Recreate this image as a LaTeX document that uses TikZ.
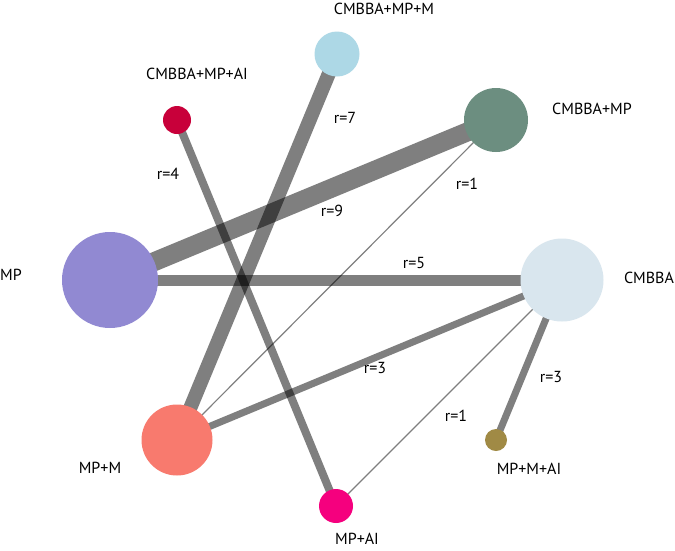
\documentclass[tikz,border=0pt]{standalone}
\usepackage{fontspec}
\setmainfont{PT Sans}
\begin{document}
\begin{tikzpicture}[x=1pt,y=-1pt,
  lbl/.style={font=\fontsize{16}{17}\selectfont, inner sep=0pt},
  rl/.style={font=\fontsize{16}{17}\selectfont, inner sep=0pt},
  edge/.style={draw=black, draw opacity=0.5},
  dot/.style={circle, inner sep=0pt, draw=none}]
\useasboundingbox (0,0) rectangle (675,550);
\fill[white] (0,0) rectangle (675,550);
% node positions
\coordinate (cmm) at (337,54);
\coordinate (cma) at (177,120);
\coordinate (cm) at (496,120);
\coordinate (mp) at (110,280);
\coordinate (cb) at (562,280);
\coordinate (mpm) at (177,440);
\coordinate (mpa) at (336,506);
\coordinate (mma) at (496,440);
% edges
\draw[edge, line width=14pt] (cmm) -- (mpm);
\draw[edge, line width=8pt] (cma) -- (mpa);
\draw[edge, line width=19pt] (cm) -- (mp);
\draw[edge, line width=1.2pt] (cm) -- (mpm);
\draw[edge, line width=11pt] (mp) -- (cb);
\draw[edge, line width=7pt] (cb) -- (mpm);
\draw[edge, line width=1.2pt] (cb) -- (mpa);
\draw[edge, line width=7pt] (cb) -- (mma);
% circles
\node[dot, fill={rgb,255:red,173;green,216;blue,230}, minimum size=45pt] (n1) at (cmm) {};
\node[dot, fill={rgb,255:red,200;green,0;blue,58}, minimum size=28pt] (n2) at (cma) {};
\node[dot, fill={rgb,255:red,108;green,142;blue,128}, minimum size=64pt] (n3) at (cm) {};
\node[dot, fill={rgb,255:red,145;green,137;blue,210}, minimum size=96pt] (n4) at (mp) {};
\node[dot, fill={rgb,255:red,217;green,230;blue,238}, minimum size=83pt] (n5) at (cb) {};
\node[dot, fill={rgb,255:red,248;green,122;blue,110}, minimum size=71pt] (n6) at (mpm) {};
\node[dot, fill={rgb,255:red,245;green,0;blue,126}, minimum size=34pt] (n7) at (mpa) {};
\node[dot, fill={rgb,255:red,160;green,138;blue,69}, minimum size=22pt] (n8) at (mma) {};
% labels
\node[lbl] (t1) at (384,9) {CMBBA+MP+M};
\node[lbl] (t2) at (197,74) {CMBBA+MP+AI};
\node[lbl] (t3) at (592,109) {CMBBA+MP};
\node[lbl, anchor=west] (t4) at (0,275) {MP};
\node[lbl] (t5) at (649,278) {CMBBA};
\node[lbl] (t6) at (100,468) {MP+M};
\node[lbl] (t7) at (529,469) {MP+M+AI};
\node[lbl] (t8) at (357,539) {MP+AI};
% edge labels
\node[rl] (r7) at (345,118) {r=7};
\node[rl] (r4) at (168,174) {r=4};
\node[rl] (r9) at (332,211) {r=9};
\node[rl] (r1a) at (467,184) {r=1};
\node[rl] (r5) at (414,263) {r=5};
\node[rl] (r3a) at (375,368) {r=3};
\node[rl] (r3b) at (551,377) {r=3};
\node[rl] (r1b) at (456,416) {r=1};
\end{tikzpicture}
\end{document}
